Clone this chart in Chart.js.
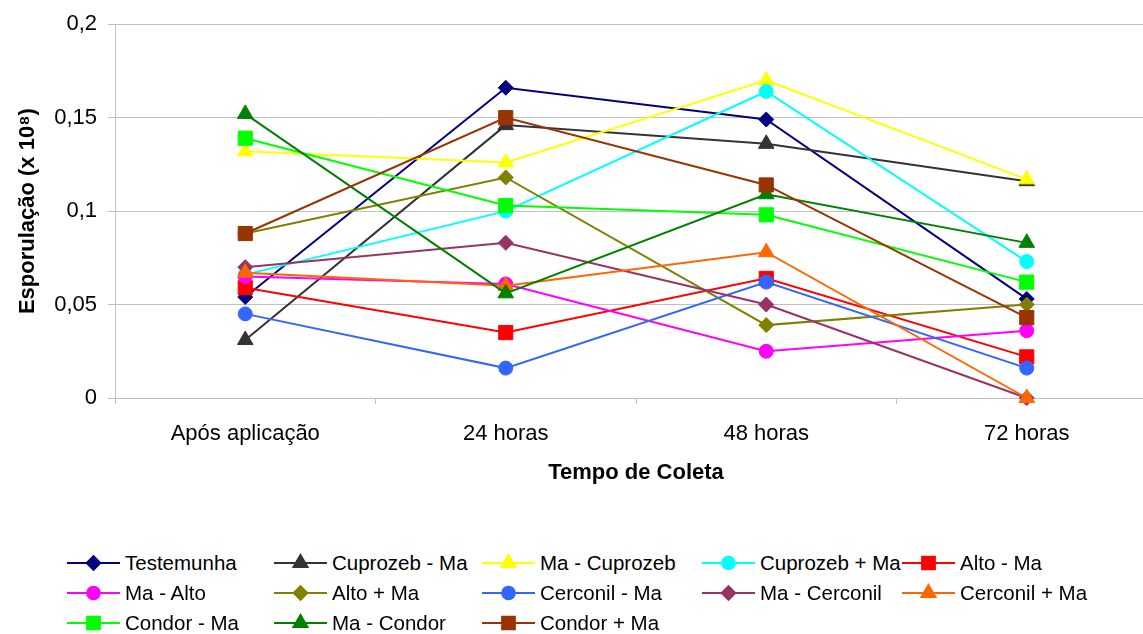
<!DOCTYPE html>
<html>
<head>
<meta charset="utf-8">
<script src="https://cdn.jsdelivr.net/npm/chart.js@4.4.1/dist/chart.umd.min.js"></script>
<style>
  body { margin: 0; background: #fff; font-family: "Liberation Sans", Arial, sans-serif; overflow: hidden; }
  #wrap { position: relative; width: 1143px; height: 634px; overflow: hidden; }
  #chartBox { position: absolute; left: 0; top: 0; width: 1168px; height: 488px; }
  #legend { position: absolute; left: 67px; top: 551px; display: grid;
    grid-template-columns: 207px 208px 220px 200px 230px; row-gap: 7px; font-size: 20.5px; color: #000; }
  .item { display: flex; align-items: center; height: 23px; white-space: nowrap; }
  .item canvas { margin-right: 5px; }
</style>
</head>
<body>
<div id="wrap">
  <div id="chartBox"><canvas id="chart1"></canvas></div>
  <div id="legend"></div>
</div>
<script>
// categorias e séries
const categorias = ['Após aplicação', '24 horas', '48 horas', '72 horas'];

const testemunha   = [0.054, 0.166, 0.149, 0.053];
const cuprozebMa   = [0.031, 0.146, 0.136, 0.116];
const maCuprozeb   = [0.132, 0.126, 0.170, 0.117];
const cuprozebMais = [0.066, 0.100, 0.164, 0.073];
const altoMa       = [0.059, 0.035, 0.064, 0.022];
const maAlto       = [0.065, 0.061, 0.025, 0.036];
const altoMais     = [0.088, 0.118, 0.039, 0.050];
const cerconilMa   = [0.045, 0.016, 0.062, 0.016];
const maCerconil   = [0.070, 0.083, 0.050, 0.000];
const cerconilMais = [0.067, 0.060, 0.078, 0.000];
const condorMa     = [0.139, 0.103, 0.098, 0.062];
const maCondor     = [0.152, 0.056, 0.109, 0.083];
const condorMais   = [0.088, 0.150, 0.114, 0.043];

const yTicks = [0, 0.05, 0.1, 0.15, 0.2];

const series = [
  { label: 'Testemunha',    data: testemunha,   color: '#000080', style: 'rectRot' },
  { label: 'Cuprozeb - Ma', data: cuprozebMa,   color: '#333333', style: 'triangle' },
  { label: 'Ma - Cuprozeb', data: maCuprozeb,   color: '#FFFF00', style: 'triangle' },
  { label: 'Cuprozeb + Ma', data: cuprozebMais, color: '#00FFFF', style: 'circle' },
  { label: 'Alto - Ma',     data: altoMa,       color: '#FF0000', style: 'rect' },
  { label: 'Ma - Alto',     data: maAlto,       color: '#FF00FF', style: 'circle' },
  { label: 'Alto + Ma',     data: altoMais,     color: '#808000', style: 'rectRot' },
  { label: 'Cerconil - Ma', data: cerconilMa,   color: '#3366FF', style: 'circle' },
  { label: 'Ma - Cerconil', data: maCerconil,   color: '#993366', style: 'rectRot' },
  { label: 'Cerconil + Ma', data: cerconilMais, color: '#FF6600', style: 'triangle' },
  { label: 'Condor - Ma',   data: condorMa,     color: '#00FF00', style: 'rect' },
  { label: 'Ma - Condor',   data: maCondor,     color: '#008000', style: 'triangle' },
  { label: 'Condor + Ma',   data: condorMais,   color: '#993300', style: 'rect' }
];

function pointSize(style) {
  if (style === 'rectRot') return 7.5;
  if (style === 'triangle') return 9;
  if (style === 'rect') return 10;
  return 7;
}

// séries posteriores ficam por cima (como no Excel)
const datasets = series.map((s, i) => ({
  label: s.label,
  data: s.data,
  borderColor: s.color,
  backgroundColor: s.color,
  borderWidth: 2,
  pointStyle: s.style,
  pointRadius: pointSize(s.style),
  pointBorderWidth: 1,
  tension: 0,
  fill: false,
  clip: false,
  order: series.length - i
}));

const tickFont = { family: 'Liberation Sans', size: 22 };
const titleFont = { family: 'Liberation Sans', size: 22, weight: 'bold' };

const ctx = document.getElementById('chart1').getContext('2d');
new Chart(ctx, {
  type: 'line',
  data: { labels: categorias, datasets: datasets },
  options: {
    responsive: true,
    maintainAspectRatio: false,
    animation: false,
    layout: { padding: { top: 24, right: 5, left: 0, bottom: 0 } },
    plugins: { legend: { display: false }, tooltip: { enabled: false } },
    scales: {
      x: {
        offset: true,
        afterFit: axis => { axis.height = 90; },
        grid: { offset: true, drawOnChartArea: false, color: '#c0c0c0', tickLength: 6 },
        border: { color: '#c0c0c0' },
        ticks: { color: '#000', font: tickFont, padding: 17, maxRotation: 0 },
        title: { display: true, text: 'Tempo de Coleta', color: '#000', font: titleFont, padding: { top: 0, bottom: 2 } }
      },
      y: {
        min: 0,
        max: 0.2,
        afterFit: axis => { axis.width = 115; },
        afterBuildTicks: axis => { axis.ticks = yTicks.map(v => ({ value: v })); },
        grid: { color: '#c0c0c0', tickLength: 7 },
        border: { color: '#c0c0c0' },
        ticks: {
          color: '#000', padding: 11, font: tickFont,
          callback: v => String(v).replace('.', ',')
        },
        title: { display: true, text: 'Esporulação (x 10⁸)', color: '#000', font: titleFont, padding: { top: 15, bottom: 0 } }
      }
    }
  }
});

// legenda em HTML (linha + marcador)
const legendEl = document.getElementById('legend');
series.forEach(s => {
  const item = document.createElement('div');
  item.className = 'item';
  const c = document.createElement('canvas');
  c.width = 53; c.height = 22;
  const g = c.getContext('2d');
  g.strokeStyle = s.color; g.lineWidth = 2;
  g.beginPath(); g.moveTo(0, 11); g.lineTo(53, 11); g.stroke();
  g.fillStyle = s.color;
  Chart.helpers.drawPoint(g, { pointStyle: s.style, radius: pointSize(s.style) * 0.9, borderWidth: 1 }, 26.5, 11);
  item.appendChild(c);
  const t = document.createElement('span');
  t.textContent = s.label;
  item.appendChild(t);
  legendEl.appendChild(item);
});
</script>
</body>
</html>
